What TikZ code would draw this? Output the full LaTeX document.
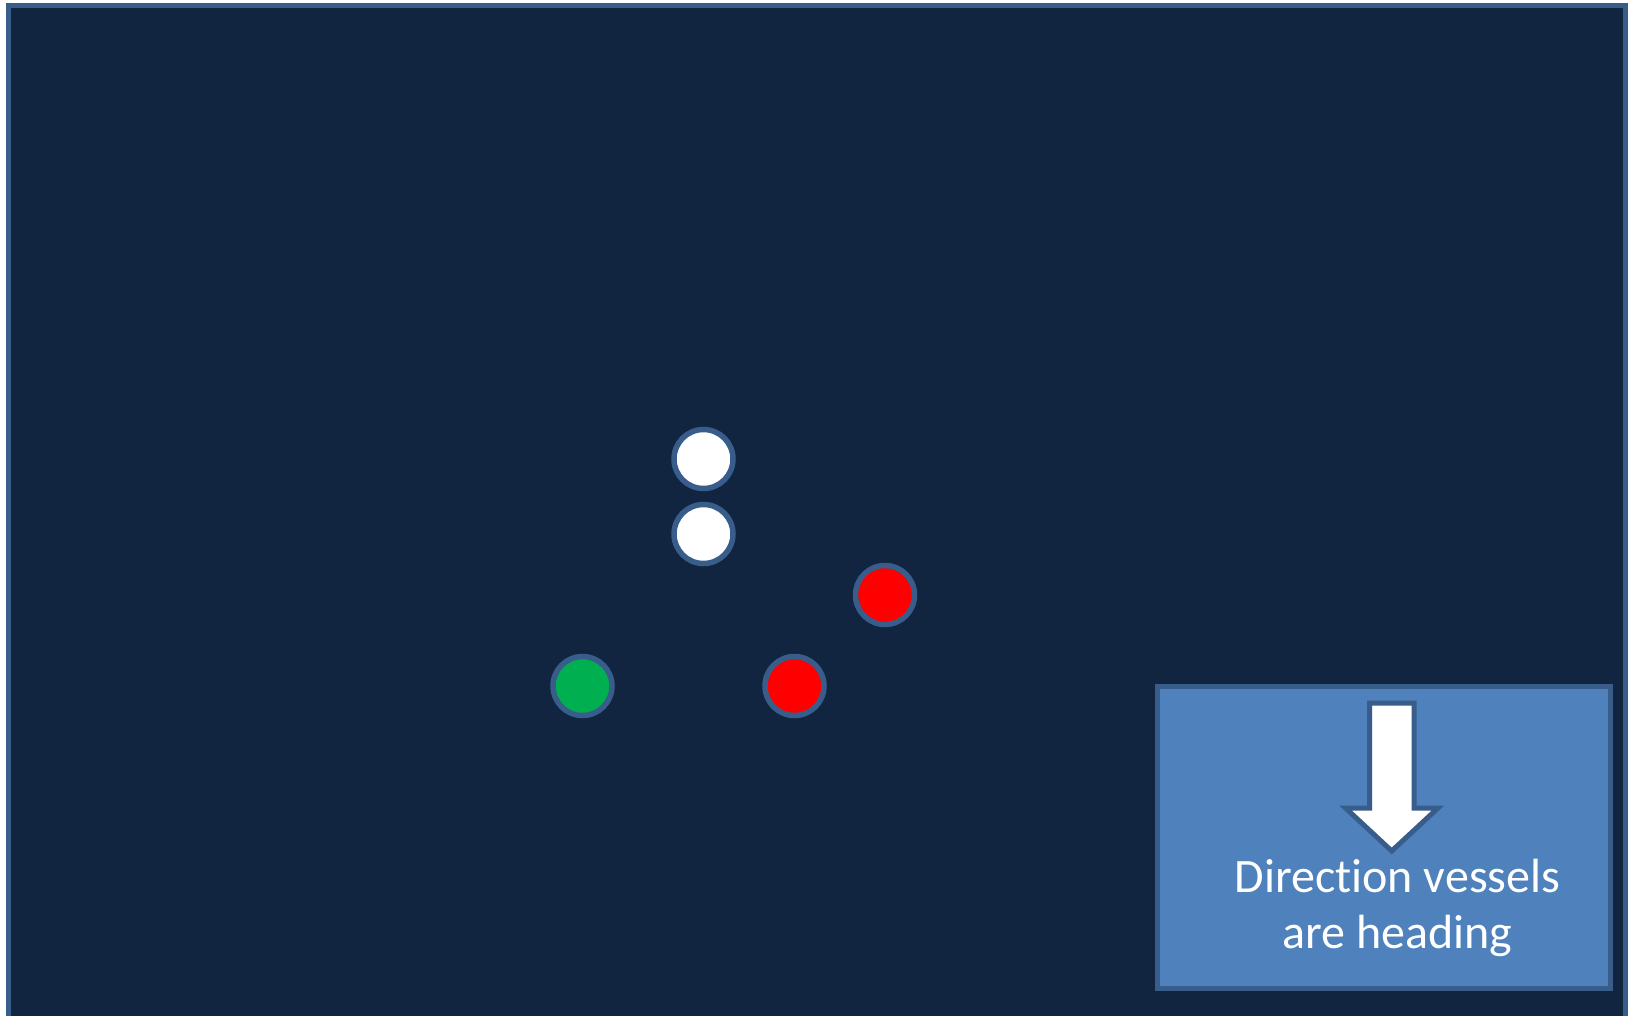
\documentclass[tikz,border=0pt]{standalone}
\usepackage{fontspec}
\setmainfont[Ligatures={NoCommon}]{Carlito}
\definecolor{navy}{RGB}{17,37,64}
\definecolor{edgeblue}{RGB}{56,93,138}
\definecolor{boxblue}{RGB}{79,129,189}
\definecolor{vgreen}{RGB}{0,176,80}
\definecolor{vred}{RGB}{255,0,0}
\begin{document}
\begin{tikzpicture}[x=1pt,y=-1pt,
  vessel/.style={circle,draw=edgeblue,line width=5.5pt,minimum size=59pt,inner sep=0pt},
  label/.style={font=\fontsize{48}{58}\selectfont,text=white,anchor=base,inner sep=0pt}]
\useasboundingbox (0,0) rectangle (1628,1016);
\fill[white] (0,0) rectangle (1628,1016);
\draw[edgeblue,fill=navy,line width=5.5pt] (8.5,5.5) rectangle (1625.5,1030);
\node[vessel,fill=white] (w1) at (703.5,459) {};
\node[vessel,fill=white] (w2) at (703.5,534) {};
\node[vessel,fill=vred] (r1) at (885,595) {};
\node[vessel,fill=vred] (r2) at (794.5,686) {};
\node[vessel,fill=vgreen] (g1) at (582.5,686) {};
\draw[edgeblue,fill=boxblue,line width=5pt] (1157.5,686) rectangle (1610.5,988);
\draw[edgeblue,fill=white,line width=5pt,miter limit=10]
  (1369.5,703) -- (1414,703) -- (1414,808) -- (1438,808) -- (1391.7,851)
  -- (1345.5,808) -- (1369.5,808) -- cycle;
\node[label] (txt1) at (1397.5,892) {Direction vessels};
\node[label] (txt2) at (1397.5,948) {are heading};
\end{tikzpicture}
\end{document}
